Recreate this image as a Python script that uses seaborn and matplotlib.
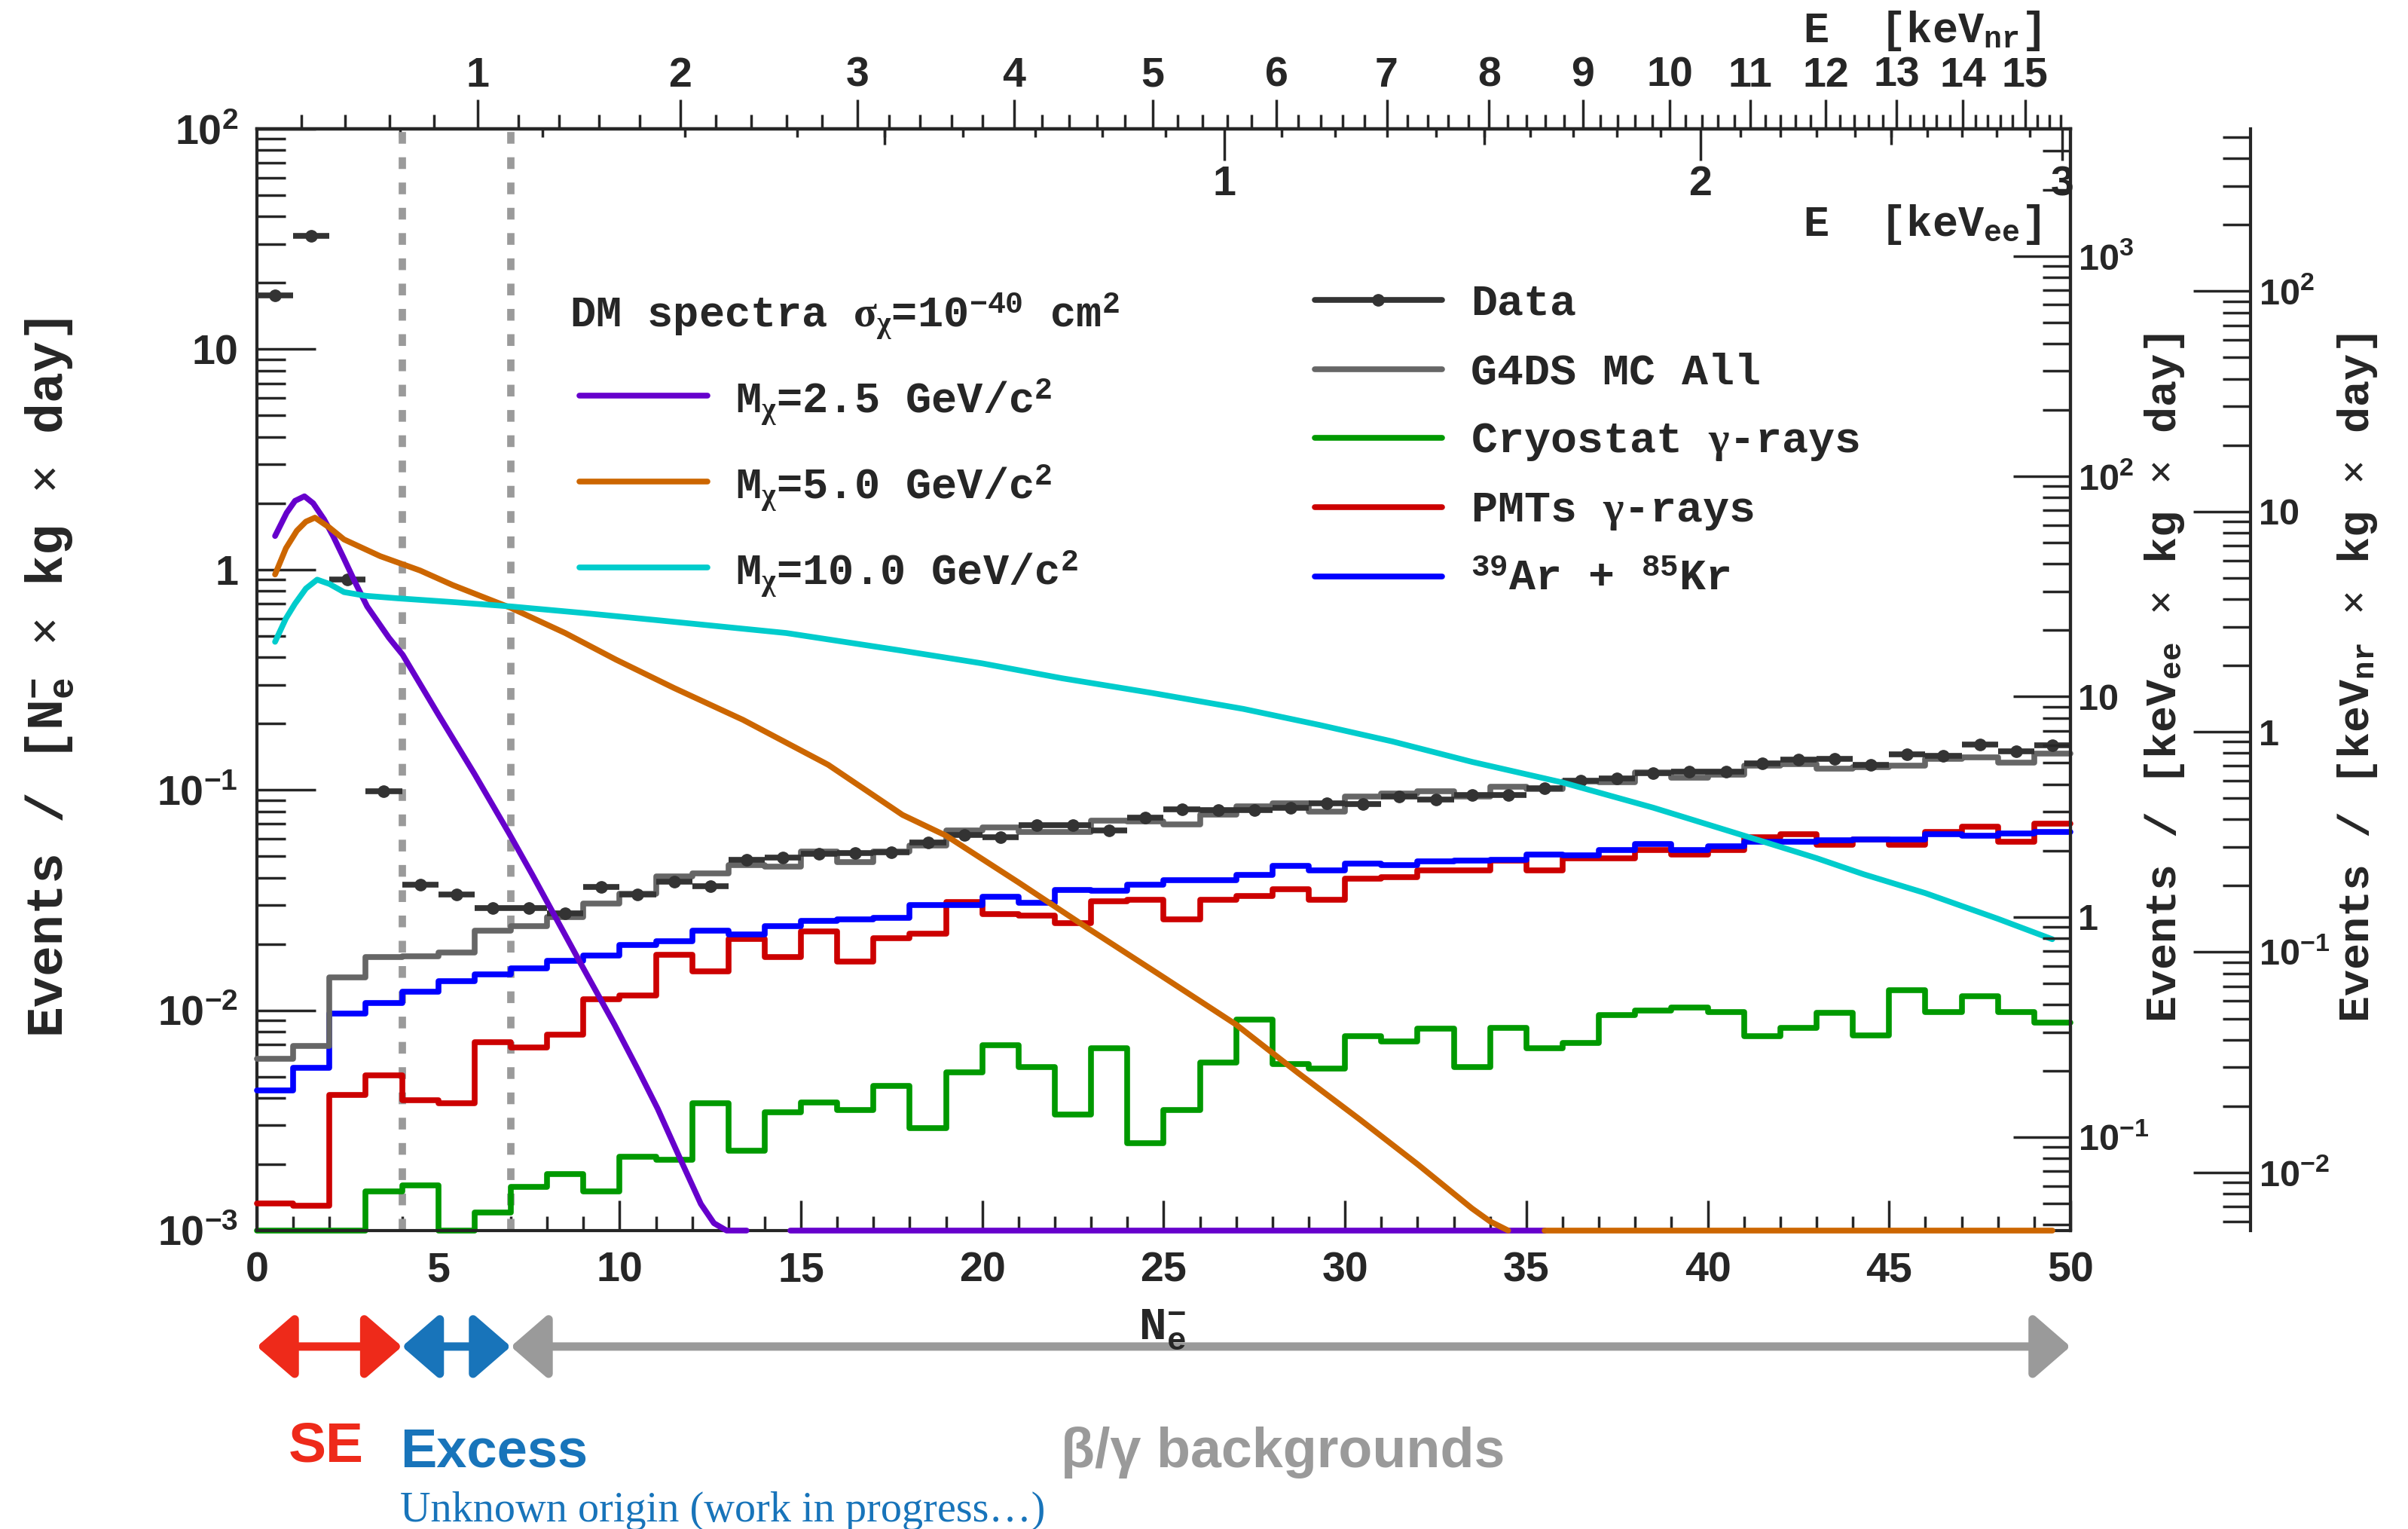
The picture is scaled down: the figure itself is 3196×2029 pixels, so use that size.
import numpy as np
import pandas as pd
import matplotlib
matplotlib.use("Agg")
import matplotlib.pyplot as plt
import matplotlib.ticker as mticker
from matplotlib.lines import Line2D
import seaborn as sns

# ------------------------------------------------------------------
# Spectra per N_e- bin (bins of width 1 from 0 to 50)
# ------------------------------------------------------------------
bin_edges = list(range(0, 51))
bin_centers = [b + 0.5 for b in range(50)]

data_rate = [17.6, 32.7, 0.90, 0.0986, 0.037, 0.0334, 0.029, 0.029, 0.0276, 0.0362,
             0.0336, 0.0382, 0.0365, 0.0483, 0.0494, 0.0513, 0.0515, 0.052, 0.0577, 0.0625,
             0.061, 0.0692, 0.0692, 0.0656, 0.0746, 0.0819, 0.0809, 0.0809, 0.0830, 0.0870,
             0.0860, 0.0935, 0.0905, 0.0950, 0.0950, 0.1015, 0.1105, 0.1125, 0.1195, 0.121,
             0.121, 0.132, 0.137, 0.138, 0.130, 0.145, 0.143, 0.161, 0.150, 0.159]

mc_all = [0.0060, 0.00687, 0.0141, 0.0175, 0.0176, 0.0183, 0.0230, 0.0240, 0.0264, 0.0305,
          0.0337, 0.0406, 0.0419, 0.0454, 0.0448, 0.0524, 0.0470, 0.0526, 0.0558, 0.0656,
          0.0678, 0.0643, 0.0643, 0.0726, 0.0718, 0.0697, 0.0770, 0.0843, 0.0869, 0.0800,
          0.0935, 0.0960, 0.0985, 0.0935, 0.1035, 0.1010, 0.1095, 0.1080, 0.1200, 0.1135,
          0.1170, 0.1290, 0.1305, 0.1245, 0.1270, 0.1290, 0.1380, 0.1410, 0.1330, 0.1460]

cryostat = [0.001, 0.001, 0.001, 0.00151, 0.0016, 0.001, 0.00121, 0.00158, 0.0018, 0.0015,
            0.00217, 0.0021, 0.00379, 0.00231, 0.00344, 0.00382, 0.00353, 0.00455, 0.00292, 0.00522,
            0.00692, 0.0055, 0.00336, 0.00673, 0.0025, 0.00352, 0.00578, 0.0091, 0.00568, 0.00543,
            0.0076, 0.00721, 0.00823, 0.0055, 0.0083, 0.00673, 0.0071, 0.0095, 0.00994, 0.0103,
            0.0098, 0.0076, 0.0083, 0.0097, 0.0077, 0.0123, 0.0098, 0.0116, 0.0098, 0.0088]

pmts = [0.00133, 0.0013, 0.00413, 0.00506, 0.00391, 0.00379, 0.00716, 0.0068, 0.00776, 0.01125,
        0.01166, 0.0179, 0.0150, 0.0210, 0.0174, 0.0228, 0.0166, 0.0213, 0.0223, 0.0309,
        0.0274, 0.0269, 0.0249, 0.0311, 0.0318, 0.0258, 0.0318, 0.0330, 0.0354, 0.0316,
        0.0396, 0.0402, 0.0430, 0.0430, 0.0477, 0.0430, 0.0490, 0.0490, 0.0535, 0.0510,
        0.0535, 0.0610, 0.0630, 0.0565, 0.0595, 0.0565, 0.0643, 0.0683, 0.0582, 0.0705]

ar_kr = [0.00434, 0.00548, 0.00964, 0.0108, 0.0121, 0.0135, 0.0146, 0.0155, 0.0167, 0.0177,
         0.0197, 0.0206, 0.0230, 0.0221, 0.0240, 0.0255, 0.0259, 0.0263, 0.0301, 0.0301,
         0.0327, 0.0307, 0.0351, 0.0348, 0.0370, 0.0388, 0.0390, 0.0412, 0.0451, 0.0430,
         0.0462, 0.0457, 0.0475, 0.0479, 0.0480, 0.0510, 0.0505, 0.0532, 0.0570, 0.0535,
         0.0553, 0.0580, 0.0582, 0.0590, 0.0595, 0.0595, 0.0630, 0.0618, 0.0632, 0.0643]

# Dark-matter signal spectra, sigma = 1e-40 cm^2
dm25_ne = [0.5, 0.82, 1.05, 1.31, 1.55, 1.85, 2.1, 2.39, 2.7, 3.04, 3.64, 4.02, 5.0, 6.0,
           6.94, 7.6, 8.19, 8.9, 9.86, 10.5, 11.05, 11.64, 12.24, 12.6, 12.95, 13.5]
dm25_rate = [1.42, 1.81, 2.05, 2.15, 2.0, 1.69, 1.42, 1.13, 0.88, 0.68, 0.49, 0.41, 0.22, 0.118,
             0.064, 0.041, 0.0272, 0.0166, 0.0086, 0.0054, 0.00357, 0.00217, 0.00132, 0.00108,
             0.00100, 0.00100]
dm25_floor_ne = [14.7, 35.5]

dm50_ne = [0.5, 0.8, 1.1, 1.35, 1.6, 2.0, 2.4, 3.4, 4.5, 5.4, 7.0, 8.5, 9.9, 11.5, 13.4,
           15.75, 17.8, 19.0, 21.0, 22.9, 25.0, 27.0, 28.7, 30.4, 32.0, 33.5, 34.0, 34.5]
dm50_rate = [0.95, 1.25, 1.5, 1.65, 1.72, 1.55, 1.37, 1.15, 0.99, 0.85, 0.67, 0.515, 0.39, 0.29,
             0.208, 0.130, 0.077, 0.062, 0.038, 0.0236, 0.0141, 0.0086, 0.0052, 0.0032, 0.0020,
             0.00126, 0.00110, 0.00100]
dm50_floor_ne = [35.5, 49.5]

dm100_ne = [0.5, 0.8, 1.05, 1.35, 1.66, 2.0, 2.4, 3.0, 3.9, 5.5, 7.0, 9.0, 11.0, 14.6, 17.8,
            20.0, 22.2, 24.7, 27.2, 29.3, 31.3, 33.5, 36.0, 38.5, 41.0, 43.0, 44.3, 46.0, 48.0, 49.5]
dm100_rate = [0.47, 0.60, 0.70, 0.82, 0.90, 0.86, 0.79, 0.76, 0.74, 0.71, 0.68, 0.635, 0.59, 0.515,
              0.428, 0.375, 0.321, 0.275, 0.233, 0.197, 0.166, 0.134, 0.108, 0.083, 0.062, 0.049,
              0.0414, 0.034, 0.026, 0.021]

# Energy scales: N_e- corresponding to nuclear-recoil and electron-recoil energies
enr_kev = [0, 1, 2, 3, 4, 5, 6, 7, 8, 9, 10, 11, 12, 13, 14, 15, 16]
enr_ne = [0, 6.09, 11.67, 16.56, 20.87, 24.7, 28.11, 31.15, 33.97, 36.56, 38.95,
          41.18, 43.26, 45.21, 47.04, 48.75, 50.4]
eee_kev = [0.0, 0.1, 0.2, 0.3, 0.4, 0.5, 0.6, 0.7, 0.8, 0.9, 1.0, 1.1, 1.2, 1.3, 1.4, 1.5,
           1.6, 1.7, 1.8, 1.9, 2.0, 2.1, 2.2, 2.3, 2.4, 2.5, 2.6, 2.7, 2.8, 2.9, 3.0, 3.05]
eee_ne = [0, 3.95, 7.88, 11.8, 14.9, 17.3, 19.46, 21.46, 23.3, 25.05, 26.67, 28.25, 29.73, 31.15,
          32.5, 33.85, 35.1, 36.3, 37.5, 38.7, 39.8, 40.9, 42.0, 43.0, 44.06, 45.06, 46.05, 47.0,
          47.96, 48.87, 49.77, 50.2]

# Rate ranges of the per-keV axes (same span as the per-N_e- axis)
rate_range_ne = (1e-3, 1e2)
rate_range_kevee = (0.0377, 3770.0)
rate_range_kevnr = (5.45e-3, 545.0)

# Analysis regions along N_e-
region_bounds = [0, 4, 7, 50]
region_colors = ["#ee2a1a", "#1874ba", "#9a9a9a"]

# ------------------------------------------------------------------
sns.set_theme(style="ticks")
plt.rcParams["font.family"] = ["Liberation Sans", "DejaVu Sans"]
plt.rcParams["font.weight"] = "bold"
plt.rcParams["mathtext.fontset"] = "custom"
plt.rcParams["mathtext.it"] = "Liberation Serif"
plt.rcParams["mathtext.rm"] = "Liberation Serif"
plt.rcParams["axes.linewidth"] = 3.0

MONO = dict(family=["Liberation Mono", "DejaVu Sans Mono"], weight="bold")

fig = plt.figure(figsize=(31.96, 20.29), dpi=100)
fig.patch.set_facecolor("white")
ax = fig.add_axes([0.1067, 0.1952, 0.7531, 0.7205])
ax.set_yscale("log")
ax.set_xlim(0, 50)
ax.set_ylim(*rate_range_ne)

# region separators
for xb in region_bounds[1:3]:
    ax.axvline(xb, color="#9a9a9a", lw=7, dashes=(1.6, 1.85), dash_capstyle="butt", zorder=1)


def steps(vals):
    return pd.DataFrame({"ne": bin_edges, "rate": list(vals) + [vals[-1]]})


hist_style = dict(drawstyle="steps-post", estimator=None, sort=False, legend=False,
                  lw=5.5, ax=ax, clip_on=False)
sns.lineplot(data=steps(cryostat), x="ne", y="rate", color="#009900", zorder=2, **hist_style)
sns.lineplot(data=steps(pmts), x="ne", y="rate", color="#cc0000", zorder=3, **hist_style)
sns.lineplot(data=steps(ar_kr), x="ne", y="rate", color="#0000ff", zorder=4, **hist_style)
sns.lineplot(data=steps(mc_all), x="ne", y="rate", color="#666666", zorder=5, **hist_style)

ax.errorbar(bin_centers, data_rate, xerr=0.5, fmt="o", color="#333333", ms=11,
            elinewidth=5.5, capsize=0, zorder=6, clip_on=False)

curve_style = dict(estimator=None, sort=False, legend=False, lw=5.5, ax=ax, clip_on=False)
sns.lineplot(x=dm25_ne, y=dm25_rate, color="#6600cc", zorder=7, **curve_style)
sns.lineplot(x=dm25_floor_ne, y=[rate_range_ne[0]] * 2, color="#6600cc", zorder=7, **curve_style)
sns.lineplot(x=dm50_ne, y=dm50_rate, color="#cc6600", zorder=7, **curve_style)
sns.lineplot(x=dm50_floor_ne, y=[rate_range_ne[0]] * 2, color="#cc6600", zorder=7, **curve_style)
sns.lineplot(x=dm100_ne, y=dm100_rate, color="#00cccc", zorder=7, **curve_style)

ax.set_xlabel("")
ax.set_ylabel("")


def decade_label(v, pos):
    e = int(round(np.log10(v)))
    if e == 0:
        return "1"
    if e == 1:
        return "10"
    return r"$\mathdefault{10^{%d}}$" % e


def style_log_axis(a):
    a.yaxis.set_major_locator(mticker.LogLocator(base=10, numticks=20))
    a.yaxis.set_minor_locator(mticker.LogLocator(base=10, subs=np.arange(2, 10), numticks=20))
    a.yaxis.set_major_formatter(mticker.FuncFormatter(decade_label))
    a.yaxis.set_minor_formatter(mticker.NullFormatter())


# main axes ticks
style_log_axis(ax)
ax.tick_params(axis="y", which="major", direction="in", length=56, width=2.5, labelsize=40, pad=18,
               left=True, right=False)
ax.tick_params(axis="y", which="minor", direction="in", length=27, width=2.5, left=True, right=False)
ax.xaxis.set_major_locator(mticker.MultipleLocator(5))
ax.xaxis.set_minor_locator(mticker.MultipleLocator(1))
ax.tick_params(axis="x", which="major", direction="in", length=29, width=2.5, labelsize=40, pad=20,
               top=False, bottom=True)
ax.tick_params(axis="x", which="minor", direction="in", length=14, width=2.5, top=False, bottom=True)

# right axis: per keVee
ax_ee = ax.twinx()
ax_ee.set_yscale("log")
ax_ee.set_ylim(*rate_range_kevee)
style_log_axis(ax_ee)
ax_ee.tick_params(axis="y", which="major", direction="in", length=55, width=2.5, labelsize=35, pad=7)
ax_ee.tick_params(axis="y", which="minor", direction="in", length=27, width=2.5)
for s in ["left", "top", "bottom"]:
    ax_ee.spines[s].set_visible(False)

# outer right axis: per keVnr
ax_nr = ax.twinx()
ax_nr.set_yscale("log")
ax_nr.set_ylim(*rate_range_kevnr)
ax_nr.spines["right"].set_position(("axes", 1.0993))
style_log_axis(ax_nr)
ax_nr.tick_params(axis="y", which="major", direction="in", length=55, width=2.5, labelsize=35, pad=8)
ax_nr.tick_params(axis="y", which="minor", direction="in", length=27, width=2.5)
for s in ["left", "top", "bottom"]:
    ax_nr.spines[s].set_visible(False)


# top axes: nuclear-recoil and electron-recoil energy
def ne_to_nr(x):
    return np.interp(x, enr_ne, enr_kev)


def nr_to_ne(x):
    return np.interp(x, enr_kev, enr_ne)


def ne_to_ee(x):
    return np.interp(x, eee_ne, eee_kev)


def ee_to_ne(x):
    return np.interp(x, eee_kev, eee_ne)


top_nr = ax.secondary_xaxis("top", functions=(ne_to_nr, nr_to_ne))
top_nr.xaxis.set_major_locator(mticker.FixedLocator(enr_kev[1:16]))
top_nr.xaxis.set_minor_locator(mticker.FixedLocator(np.arange(0.2, 15.7, 0.2)))
top_nr.xaxis.set_major_formatter(mticker.FormatStrFormatter("%d"))
top_nr.tick_params(which="major", direction="out", length=28, width=2.5, labelsize=40, pad=4)
top_nr.tick_params(which="minor", direction="out", length=14, width=2.5)

top_ee = ax.secondary_xaxis("top", functions=(ne_to_ee, ee_to_ne))
top_ee.xaxis.set_major_locator(mticker.FixedLocator([1, 2, 3]))
top_ee.xaxis.set_minor_locator(mticker.FixedLocator(np.arange(0.1, 3.0, 0.1)))
top_ee.xaxis.set_major_formatter(mticker.FormatStrFormatter("%d"))
top_ee.tick_params(which="major", direction="in", length=30, width=2.5, labelsize=40, pad=-72)
top_ee.tick_params(which="minor", direction="in", length=8, width=2.5)

top_ee_half = ax.secondary_xaxis("top", functions=(ne_to_ee, ee_to_ne))
top_ee_half.xaxis.set_major_locator(mticker.FixedLocator([0.5, 1.5, 2.5]))
top_ee_half.xaxis.set_major_formatter(mticker.NullFormatter())
top_ee_half.tick_params(which="major", direction="in", length=15, width=2.5)
top_ee_half.xaxis.set_minor_locator(mticker.NullLocator())

ax.text(0.9834, 1.0787, r"E  [keV$_{\mathdefault{nr}}$]", transform=ax.transAxes, ha="right",
        va="baseline", fontsize=41, **MONO)
ax.text(0.9834, 0.9032, r"E  [keV$_{\mathdefault{ee}}$]", transform=ax.transAxes, ha="right",
        va="baseline", fontsize=41, **MONO)

# axis titles
fig.text(0.0205, 0.5564, r"Events / [N$_{\mathdefault{e}}^{\mathdefault{-}}$ $\times$ kg $\times$ day]",
         rotation=90, ha="center", va="center", fontsize=49, **MONO)
fig.text(0.8990, 0.5564, r"Events / [keV$_{\mathdefault{ee}}$ $\times$ kg $\times$ day]",
         rotation=90, ha="center", va="center", fontsize=42, **MONO)
fig.text(0.9790, 0.5564, r"Events / [keV$_{\mathdefault{nr}}$ $\times$ kg $\times$ day]",
         rotation=90, ha="center", va="center", fontsize=42, **MONO)
ax.text(24.3, -0.0985, r"N$_{\mathdefault{e}}^{\mathdefault{-}}$", transform=ax.get_xaxis_transform(),
        ha="left", va="baseline", fontsize=44, zorder=10, **MONO)

# legends
ax.text(0.1724, 0.8197, r"DM spectra $\sigma_{\chi}$=10$^{\mathdefault{-40}}$ cm$^{\mathdefault{2}}$",
        transform=ax.transAxes, ha="left", va="baseline", fontsize=41, **MONO)
dm_entries = [("#6600cc", r"M$_{\chi}$=2.5 GeV/c$^{\mathdefault{2}}$", 0.7579, 0.7421),
              ("#cc6600", r"M$_{\chi}$=5.0 GeV/c$^{\mathdefault{2}}$", 0.6799, 0.6642),
              ("#00cccc", r"M$_{\chi}$=10.0 GeV/c$^{\mathdefault{2}}$", 0.6019, 0.5862)]
for col, lab, yl, yt in dm_entries:
    ax.add_line(Line2D([0.1778, 0.2484], [yl, yl], transform=ax.transAxes, color=col, lw=5.5))
    ax.text(0.2638, yt, lab, transform=ax.transAxes, ha="left", va="baseline", fontsize=41, **MONO)

bg_entries = [("#333333", "Data", 0.8447, 0.8312),
              ("#666666", "G4DS MC All", 0.7818, 0.7684),
              ("#009900", r"Cryostat $\gamma$-rays", 0.7196, 0.7063),
              ("#cc0000", r"PMTs $\gamma$-rays", 0.6566, 0.6435),
              ("#0000ff", r"$^{\mathdefault{39}}$Ar + $^{\mathdefault{85}}$Kr", 0.5937, 0.5814)]
for col, lab, yl, yt in bg_entries:
    ax.add_line(Line2D([0.5833, 0.6535], [yl, yl], transform=ax.transAxes, color=col, lw=5.5))
    ax.text(0.6693, yt, lab, transform=ax.transAxes, ha="left", va="baseline", fontsize=42, **MONO)
ax.add_line(Line2D([0.6184], [0.8447], transform=ax.transAxes, color="#333333", marker="o",
                   ms=11, lw=0))

# region arrows below the axis
xt = ax.get_xaxis_transform()
for (x0, x1), col in zip(zip(region_bounds[:-1], region_bounds[1:]), region_colors):
    ax.annotate("", xy=(x1, -0.1053), xytext=(x0, -0.1053), xycoords=xt, textcoords=xt,
                arrowprops=dict(arrowstyle="<|-|>,head_length=30,head_width=26", color=col, lw=8,
                                shrinkA=0, shrinkB=0, mutation_scale=1),
                annotation_clip=False)

ax.text(0.87, -0.210, "SE", transform=xt, ha="left", va="baseline", fontsize=54,
        color="#ee2a1a", fontweight="bold")
ax.text(3.95, -0.2148, "Excess", transform=xt, ha="left", va="baseline", fontsize=52,
        color="#1874ba", fontweight="bold")
ax.text(22.17, -0.2148, "β/γ backgrounds", transform=xt, ha="left", va="baseline", fontsize=53,
        color="#9a9a9a", fontweight="bold")
ax.text(3.95, -0.2640, "Unknown origin (work in progress…)", transform=xt, ha="left", va="baseline",
        fontsize=40.5, color="#1874ba", fontweight="normal",
        family=["Liberation Serif", "DejaVu Serif"])

fig.savefig("out.png", dpi=100, facecolor="white")
